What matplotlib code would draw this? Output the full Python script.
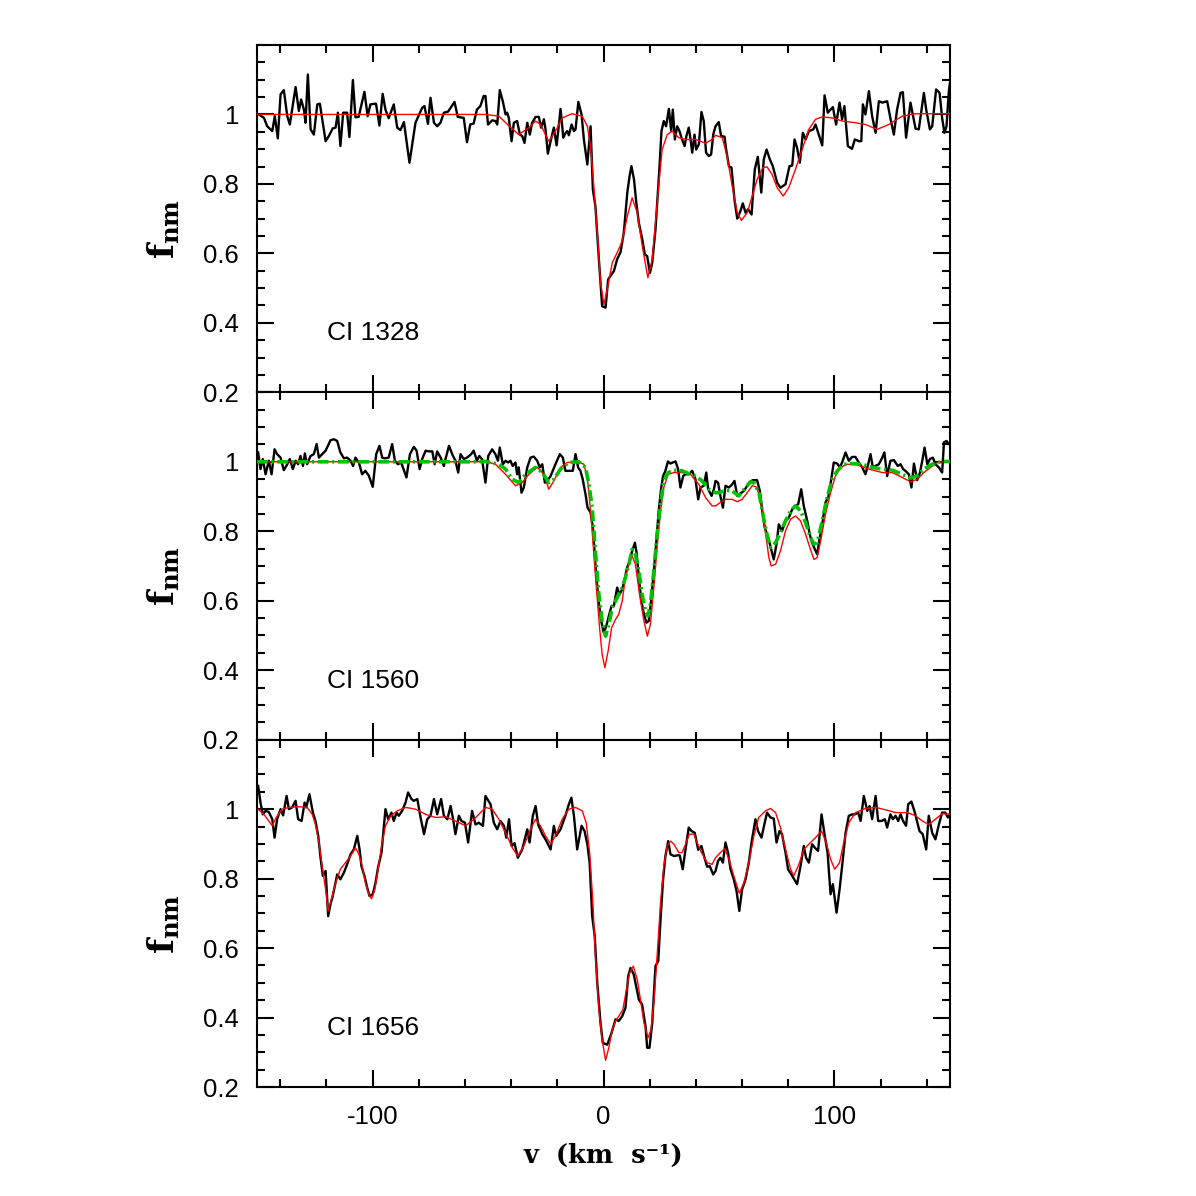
import numpy as np
import matplotlib
matplotlib.use("Agg")
import matplotlib.pyplot as plt
from matplotlib.ticker import FixedLocator, MultipleLocator, FuncFormatter

plt.rcParams['font.family'] = ['Liberation Sans', 'DejaVu Sans']
plt.rcParams['mathtext.fontset'] = 'dejavuserif'

# === Datos: (velocidad km/s, flujo normalizado) ===
obs_1328 = [
    (-149.2, 1.000), (-147.0, 0.990), (-145.6, 0.966), (-143.4, 0.952), (-142.3, 0.995), (-141.0, 0.931),
    (-139.8, 1.058), (-138.4, 1.070), (-136.9, 0.995), (-135.8, 0.971), (-133.3, 1.079), (-131.9, 1.010),
    (-130.9, 1.043), (-129.7, 1.014), (-129.0, 0.976), (-128.0, 1.115), (-126.8, 0.957), (-125.4, 0.942),
    (-123.9, 1.029), (-122.8, 1.031), (-120.3, 0.923), (-118.9, 0.938), (-117.2, 0.960), (-116.0, 0.962),
    (-115.0, 1.005), (-113.9, 0.909), (-112.7, 1.005), (-111.0, 1.005), (-110.0, 0.935), (-108.5, 1.099),
    (-107.4, 0.992), (-106.0, 0.993), (-103.5, 1.065), (-102.1, 0.995), (-100.9, 1.029), (-98.5, 1.031),
    (-97.0, 0.968), (-95.6, 1.059), (-94.4, 1.014), (-93.0, 0.989), (-90.8, 1.029), (-89.3, 0.962),
    (-87.9, 0.955), (-86.4, 0.978), (-84.0, 0.861), (-81.4, 0.976), (-78.5, 1.019), (-77.5, 1.024),
    (-76.0, 0.973), (-74.9, 1.048), (-73.4, 0.976), (-72.0, 0.966), (-70.6, 0.976), (-69.1, 1.005),
    (-67.3, 1.008), (-64.5, 1.036), (-63.1, 0.993), (-60.5, 0.990), (-59.1, 0.920), (-57.7, 0.971),
    (-56.2, 0.974), (-54.8, 1.014), (-53.3, 1.024), (-51.9, 1.053),
    (-51.1, 1.053), (-50.0, 0.971), (-48.2, 0.983), (-46.8, 0.981), (-46.0, 0.971), (-44.9, 1.070),
    (-43.6, 1.038), (-42.4, 1.000), (-41.7, 1.005), (-41.0, 0.990), (-39.8, 0.923), (-38.8, 0.976),
    (-37.4, 0.981), (-36.2, 0.942), (-35.2, 0.938), (-34.2, 0.918), (-33.0, 0.976), (-31.9, 0.942),
    (-30.9, 0.976), (-29.4, 0.993), (-28.0, 0.993), (-27.0, 0.962), (-25.8, 0.986), (-25.1, 0.957),
    (-24.1, 0.887), (-22.9, 0.923), (-21.5, 0.962), (-20.3, 0.911), (-19.6, 0.952), (-18.6, 1.016),
    (-17.4, 0.933), (-16.4, 0.947), (-15.7, 0.952), (-15.0, 0.940), (-13.8, 0.971), (-12.8, 0.952),
    (-12.1, 0.957), (-10.9, 1.036), (-9.5, 1.000), (-8.5, 0.928), (-7.0, 0.856), (-5.6, 0.966),
    (-4.6, 0.784), (-3.5, 0.736), (-2.0, 0.583), (-0.6, 0.448), (0.9, 0.444), (2.0, 0.525),
    (3.0, 0.535), (4.5, 0.549), (5.9, 0.583), (7.4, 0.604), (8.8, 0.660), (10.3, 0.775),
    (11.3, 0.823), (12.1, 0.851), (13.2, 0.813), (14.2, 0.746), (15.3, 0.688), (16.8, 0.640),
    (17.9, 0.597), (18.9, 0.592), (20.1, 0.544), (21.1, 0.573), (22.5, 0.669), (24.0, 0.823),
    (25.1, 0.952), (26.1, 0.981), (27.1, 0.966), (28.3, 1.016), (29.3, 0.952), (30.0, 1.014),
    (30.9, 0.928), (31.9, 0.966), (32.9, 0.952), (34.0, 0.928), (35.1, 0.909), (35.9, 0.938),
    (36.9, 0.962), (37.7, 0.928), (38.4, 0.890), (39.4, 0.942), (40.1, 0.899), (41.3, 0.914),
    (42.4, 1.007), (43.4, 0.981), (44.4, 0.890), (45.6, 0.880), (46.6, 0.885), (47.5, 0.942),
    (48.5, 0.966), (49.9, 0.978), (50.9, 0.938), (52.4, 0.936), (53.1, 0.899), (54.3, 0.851),
    (55.4, 0.847), (56.7, 0.755), (57.9, 0.700), (59.3, 0.722), (60.3, 0.744), (61.5, 0.717),
    (62.6, 0.727), (64.1, 0.712), (65.5, 0.842), (66.8, 0.878), (68.3, 0.775), (69.4, 0.871),
    (70.6, 0.899), (72.0, 0.871), (73.3, 0.851), (75.2, 0.803), (76.6, 0.789), (78.8, 0.799),
    (80.5, 0.851), (81.7, 0.853), (82.7, 0.928), (83.8, 0.904), (85.0, 0.861), (86.3, 0.947),
    (87.5, 0.928), (88.9, 0.952), (90.8, 0.957), (91.8, 0.971), (93.2, 0.942), (94.7, 0.911),
    (95.7, 1.055), (97.1, 1.005), (98.3, 1.014), (99.3, 1.021), (100.7, 0.971), (102.2, 1.034),
    (103.3, 0.986), (104.3, 1.024), (105.8, 0.909), (107.6, 0.901), (108.8, 0.928), (110.6, 0.923),
    (111.6, 0.923), (112.3, 1.029), (113.4, 1.000), (114.9, 1.067), (116.3, 0.995), (117.8, 0.947),
    (119.2, 1.038), (120.7, 1.034), (122.8, 1.038), (124.3, 0.986), (125.7, 0.942), (127.1, 1.014),
    (128.6, 1.062), (129.6, 1.064), (131.0, 0.933), (132.9, 1.034), (135.1, 0.959), (136.5, 0.957),
    (138.7, 1.062), (139.7, 1.014), (141.3, 0.957), (142.3, 0.966), (144.0, 1.072), (145.5, 1.062),
    (146.6, 0.990), (147.6, 0.947), (148.5, 0.966), (149.5, 1.067), (150.6, 1.120),
]

fit_1328 = [
    (-150.0, 1.000), (-100.0, 1.000), (-55.0, 1.000),
    (-51.1, 1.000), (-45.3, 0.995), (-40.9, 0.967), (-36.7, 0.942), (-32.3, 0.962), (-29.4, 0.981),
    (-27.3, 0.971), (-23.7, 0.923), (-20.8, 0.952), (-17.9, 0.990), (-13.6, 1.002), (-9.2, 0.995),
    (-7.0, 0.966), (-5.6, 0.909), (-4.2, 0.794), (-2.7, 0.660), (-1.3, 0.516), (0.2, 0.453),
    (1.6, 0.496), (3.8, 0.573), (5.9, 0.602), (8.1, 0.635), (10.3, 0.707), (12.4, 0.760),
    (14.6, 0.717), (16.8, 0.621), (19.2, 0.530), (21.1, 0.583), (22.5, 0.688), (24.0, 0.803),
    (25.4, 0.899), (27.6, 0.942), (29.7, 0.952), (32.6, 0.933), (35.5, 0.928), (39.8, 0.928),
    (44.2, 0.917), (47.0, 0.928),
    (48.5, 0.940), (51.4, 0.933), (53.5, 0.880), (55.7, 0.794), (57.9, 0.717), (59.7, 0.695),
    (62.2, 0.717), (64.4, 0.765), (66.5, 0.813), (69.0, 0.847), (70.8, 0.849), (73.0, 0.827),
    (75.2, 0.789), (77.8, 0.765), (80.2, 0.789), (83.1, 0.842), (86.0, 0.899), (88.9, 0.957),
    (91.8, 0.986), (94.7, 0.993), (99.0, 0.990), (103.3, 0.981), (109.1, 0.976), (113.4, 0.971),
    (118.5, 0.957), (123.5, 0.971), (129.3, 0.995), (135.1, 1.002), (150.2, 1.002),
]

obs_1560 = [
    (-149.5, 1.027), (-148.5, 0.979), (-147.5, 1.008), (-146.3, 0.964), (-144.9, 1.003), (-143.7, 0.964),
    (-142.4, 1.036), (-141.3, 1.022), (-139.8, 1.012), (-138.4, 0.976), (-136.9, 0.993), (-135.8, 1.008),
    (-134.5, 0.979), (-133.3, 1.003), (-132.2, 0.993), (-131.2, 1.017), (-130.1, 0.988), (-129.3, 1.024),
    (-128.3, 0.993), (-126.8, 1.017), (-125.4, 1.022), (-124.2, 1.051), (-123.2, 1.012), (-122.1, 1.020),
    (-120.3, 1.032), (-118.2, 1.062), (-116.7, 1.065), (-115.3, 1.060), (-113.9, 1.027), (-112.4, 1.010),
    (-111.0, 1.012), (-109.5, 1.003), (-108.4, 0.988), (-107.4, 1.012), (-105.9, 0.998), (-104.5, 0.964),
    (-103.1, 0.974), (-101.6, 0.960), (-99.9, 0.928), (-98.4, 1.022), (-97.0, 1.046), (-95.8, 1.012),
    (-94.7, 1.010), (-93.0, 1.012), (-91.5, 1.051), (-90.3, 1.003), (-89.0, 0.993), (-87.6, 0.998),
    (-85.3, 0.955), (-83.8, 1.022), (-82.1, 1.043), (-80.9, 1.032), (-79.6, 0.979), (-78.5, 1.008),
    (-77.0, 1.032), (-75.6, 1.030), (-74.1, 1.030), (-73.1, 0.993), (-72.0, 1.030), (-70.5, 1.012),
    (-69.1, 0.988), (-68.4, 1.008), (-66.9, 1.046), (-65.5, 1.022), (-64.1, 1.003), (-62.9, 0.969),
    (-61.9, 1.022), (-60.5, 1.008), (-59.1, 1.012), (-57.3, 1.022), (-56.2, 1.032), (-54.8, 1.003),
    (-53.8, 1.017), (-52.6, 1.008),
    (-51.1, 0.940), (-49.9, 1.017), (-48.2, 1.036), (-46.8, 1.022), (-45.7, 1.003), (-44.9, 1.041),
    (-43.6, 0.993), (-42.4, 1.003), (-41.3, 0.998), (-40.3, 1.003), (-39.3, 0.988), (-38.1, 0.998),
    (-37.4, 0.964), (-36.7, 0.984), (-35.5, 0.911), (-34.5, 0.926), (-33.0, 0.984), (-31.6, 1.012),
    (-30.2, 1.015), (-28.7, 1.003), (-27.6, 0.984), (-26.5, 0.993), (-25.4, 0.940), (-24.4, 0.945),
    (-22.9, 0.959), (-20.8, 0.993), (-18.9, 1.022), (-17.6, 1.012), (-16.5, 0.974), (-15.0, 0.974),
    (-13.3, 0.974), (-12.1, 1.022), (-11.0, 0.984), (-10.0, 0.974), (-9.0, 0.950), (-7.8, 0.907),
    (-6.9, 0.868), (-5.6, 0.854), (-4.6, 0.811), (-3.5, 0.705), (-2.3, 0.609), (-1.0, 0.542),
    (0.1, 0.508), (1.2, 0.527), (2.3, 0.556), (3.5, 0.585), (4.5, 0.585), (5.9, 0.638),
    (6.9, 0.618), (8.1, 0.633), (9.2, 0.662), (10.2, 0.695), (11.4, 0.715), (12.4, 0.743),
    (13.6, 0.767), (14.3, 0.739), (15.3, 0.667), (16.4, 0.599), (17.5, 0.561), (18.6, 0.537),
    (19.6, 0.542), (20.6, 0.599), (21.8, 0.686), (22.9, 0.772), (23.9, 0.859), (25.0, 0.926),
    (25.8, 0.959), (26.8, 0.974), (27.9, 1.001), (29.0, 0.995), (30.0, 0.998), (31.2, 1.001),
    (32.3, 0.979), (33.3, 0.926), (34.5, 0.959), (35.5, 0.964), (36.9, 0.964), (38.4, 0.974),
    (39.8, 0.950), (41.0, 0.892), (42.0, 0.926), (43.4, 0.931), (44.5, 0.969), (45.3, 0.921),
    (46.8, 0.902), (47.8, 0.921),
    (48.5, 0.945), (49.6, 0.940), (50.6, 0.902), (51.7, 0.868), (52.8, 0.931), (54.3, 0.926),
    (55.7, 0.935), (56.7, 0.945), (57.9, 0.902), (59.3, 0.909), (60.8, 0.916), (62.2, 0.931),
    (63.4, 0.942), (64.6, 0.947), (66.5, 0.947), (67.7, 0.916), (68.7, 0.859), (69.8, 0.811),
    (71.3, 0.782), (72.6, 0.748), (73.7, 0.719), (74.9, 0.763), (75.9, 0.820), (77.3, 0.801),
    (78.8, 0.830), (80.2, 0.839), (81.7, 0.863), (83.1, 0.873), (84.3, 0.878), (85.6, 0.921),
    (86.7, 0.873), (88.2, 0.830), (89.3, 0.791), (90.3, 0.767), (91.5, 0.748), (92.5, 0.734),
    (93.5, 0.777), (94.7, 0.820), (96.1, 0.883), (97.3, 0.897), (98.6, 0.950), (99.7, 0.998),
    (101.2, 0.995), (102.3, 0.984), (103.3, 0.998), (104.8, 1.027), (106.2, 1.003), (107.6, 1.014),
    (109.1, 1.014), (110.5, 0.998), (112.0, 0.984), (113.4, 0.964), (114.6, 0.993), (115.6, 1.022),
    (116.6, 0.984), (117.8, 0.988), (119.2, 0.993), (120.4, 1.008), (121.6, 1.027), (122.8, 0.959),
    (124.2, 1.003), (125.7, 1.005), (127.4, 0.988), (128.6, 0.993), (129.7, 0.979), (130.7, 0.974),
    (132.2, 0.964), (133.3, 0.926), (134.4, 0.995), (135.8, 0.947), (137.0, 0.969), (138.0, 1.003),
    (139.0, 1.041), (140.2, 0.993), (141.3, 1.008), (142.6, 1.012), (143.7, 0.993), (145.2, 0.984),
    (146.6, 0.969), (147.4, 1.056), (148.5, 1.060), (149.5, 1.051), (150.2, 1.051),
]

fit_1560 = [
    (-150.0, 1.000), (-100.0, 1.000), (-55.0, 1.000),
    (-51.1, 1.001), (-46.8, 0.993), (-42.4, 0.964), (-38.1, 0.931), (-35.2, 0.940), (-32.3, 0.964),
    (-28.7, 0.984), (-25.8, 0.964), (-23.7, 0.921), (-21.5, 0.945), (-18.6, 0.984), (-15.7, 0.998),
    (-11.4, 1.001), (-8.5, 0.993), (-7.0, 0.955), (-5.6, 0.859), (-4.6, 0.772), (-3.2, 0.647),
    (-1.7, 0.522), (-0.6, 0.446), (0.6, 0.407), (2.0, 0.455), (3.5, 0.522), (5.2, 0.546),
    (6.6, 0.561), (8.1, 0.599), (9.5, 0.667), (11.2, 0.715), (12.4, 0.729), (13.8, 0.705),
    (15.6, 0.618), (17.5, 0.542), (19.0, 0.498), (20.3, 0.532), (21.8, 0.638), (23.2, 0.753),
    (24.7, 0.859), (26.1, 0.926), (28.0, 0.964), (30.5, 0.969), (34.0, 0.969), (37.6, 0.964),
    (41.3, 0.935), (44.2, 0.897), (47.0, 0.873),
    (48.5, 0.873), (50.6, 0.883), (52.8, 0.892), (55.7, 0.892), (57.9, 0.885), (60.0, 0.892),
    (62.2, 0.911), (64.4, 0.931), (66.1, 0.928), (67.6, 0.902), (69.0, 0.849), (70.4, 0.782),
    (71.6, 0.724), (72.6, 0.700), (74.5, 0.705), (76.6, 0.743), (78.8, 0.801), (81.0, 0.835),
    (83.1, 0.844), (85.3, 0.830), (87.5, 0.791), (89.6, 0.748), (91.1, 0.719), (92.5, 0.724),
    (94.0, 0.772), (96.1, 0.849), (98.3, 0.911), (100.4, 0.959), (102.6, 0.984), (105.5, 0.993),
    (109.8, 0.991), (114.9, 0.979), (120.7, 0.969), (125.0, 0.969), (129.3, 0.955), (133.0, 0.942),
    (135.8, 0.950), (138.7, 0.969), (141.6, 0.984), (144.5, 0.998), (150.2, 1.001),
]

alt_1560 = [
    (-150.0, 1.000), (-100.0, 1.000), (-55.0, 1.000),
    (-51.1, 1.001), (-45.3, 0.993), (-42.4, 0.979), (-39.5, 0.950), (-36.7, 0.940), (-33.8, 0.964),
    (-29.4, 0.984), (-26.5, 0.969), (-23.7, 0.940), (-21.5, 0.950), (-18.6, 0.979), (-15.0, 0.998),
    (-10.7, 1.000), (-7.8, 0.984), (-6.3, 0.935), (-4.9, 0.868), (-3.5, 0.743), (-2.0, 0.618),
    (-0.6, 0.542), (0.9, 0.498), (2.3, 0.532), (3.8, 0.580), (5.2, 0.599), (6.6, 0.618),
    (8.1, 0.638), (9.5, 0.667), (11.0, 0.705), (12.4, 0.748), (13.8, 0.734), (15.3, 0.686),
    (16.7, 0.618), (18.2, 0.570), (19.3, 0.556), (20.3, 0.590), (21.8, 0.686), (23.2, 0.791),
    (24.7, 0.878), (26.1, 0.945), (28.0, 0.969), (30.5, 0.976), (34.0, 0.974), (36.9, 0.966),
    (39.8, 0.959), (42.7, 0.945), (45.6, 0.921),
    (48.5, 0.911), (49.9, 0.911), (52.8, 0.918), (55.7, 0.916), (58.6, 0.902), (61.5, 0.926),
    (63.6, 0.942), (65.1, 0.940), (67.3, 0.911), (69.4, 0.835), (70.9, 0.787), (72.3, 0.753),
    (74.5, 0.767), (76.6, 0.796), (78.8, 0.830), (81.0, 0.859), (83.1, 0.873), (85.3, 0.859),
    (87.5, 0.825), (89.6, 0.782), (91.1, 0.763), (92.5, 0.767), (94.7, 0.830), (96.8, 0.897),
    (99.0, 0.950), (101.2, 0.974), (104.0, 0.993), (107.6, 0.995), (112.0, 0.993), (116.3, 0.984),
    (120.7, 0.979), (125.0, 0.976), (129.3, 0.964), (133.0, 0.953), (135.8, 0.960), (138.7, 0.979),
    (142.3, 0.993), (146.6, 1.001), (150.2, 1.001),
]

obs_1656 = [
    (-149.5, 1.067), (-148.5, 1.019), (-147.5, 0.985), (-146.3, 0.995), (-144.9, 0.992), (-143.4, 0.971),
    (-142.4, 0.918), (-141.3, 0.971), (-139.8, 1.000), (-138.7, 0.982), (-137.2, 1.038), (-136.2, 1.000),
    (-134.8, 1.005), (-133.3, 1.024), (-132.2, 0.971), (-130.7, 0.966), (-129.4, 1.019), (-128.7, 1.005),
    (-127.3, 1.043), (-125.8, 0.990), (-124.7, 0.966), (-123.5, 0.923), (-122.5, 0.860), (-121.5, 0.808),
    (-120.3, 0.822), (-119.2, 0.692), (-118.2, 0.726), (-117.2, 0.750), (-115.3, 0.812), (-113.9, 0.798),
    (-112.4, 0.817), (-111.0, 0.841), (-109.5, 0.870), (-108.1, 0.884), (-106.6, 0.923), (-105.6, 0.884),
    (-104.8, 0.836), (-103.5, 0.808), (-102.3, 0.774), (-101.3, 0.750), (-99.9, 0.755), (-98.7, 0.788),
    (-97.6, 0.832), (-96.1, 0.875), (-94.4, 1.000), (-93.2, 0.971), (-91.8, 0.990), (-90.8, 0.966),
    (-89.6, 0.990), (-88.6, 0.981), (-87.2, 0.995), (-85.7, 1.019), (-84.6, 1.048), (-83.1, 1.029),
    (-82.1, 1.024), (-80.6, 1.029), (-79.2, 0.976), (-77.7, 0.928), (-76.3, 0.971), (-74.9, 0.981),
    (-73.4, 1.029), (-72.0, 0.985), (-70.3, 1.029), (-69.1, 0.981), (-67.6, 0.971), (-66.2, 1.009),
    (-65.1, 0.971), (-64.1, 0.928), (-62.6, 0.981), (-61.5, 0.966), (-60.0, 0.961), (-58.6, 0.904),
    (-56.9, 0.995), (-55.4, 0.956), (-54.0, 0.961), (-52.2, 0.952),
    (-51.1, 1.038), (-48.9, 1.014), (-47.5, 0.961), (-46.0, 0.942), (-44.6, 0.966), (-43.1, 0.952),
    (-42.1, 0.918), (-40.9, 0.971), (-39.8, 0.894), (-38.5, 0.902), (-37.1, 0.860), (-35.2, 0.884),
    (-33.0, 0.942), (-32.0, 0.904), (-30.6, 0.981), (-29.4, 1.009), (-28.3, 0.956), (-26.5, 0.928),
    (-25.1, 0.913), (-22.9, 0.884), (-21.5, 0.952), (-20.5, 0.923), (-18.6, 0.942), (-16.5, 0.981),
    (-15.0, 1.014), (-13.9, 1.033), (-12.8, 0.981), (-11.4, 0.884), (-9.5, 0.952), (-8.2, 0.937),
    (-7.0, 0.899), (-6.0, 0.846), (-4.9, 0.692), (-3.8, 0.635), (-2.7, 0.500), (-1.3, 0.385),
    (-0.3, 0.327), (1.6, 0.322), (3.5, 0.356), (5.2, 0.395), (6.6, 0.390), (8.1, 0.404),
    (9.5, 0.428), (10.7, 0.519), (11.7, 0.543), (13.1, 0.524), (14.1, 0.491), (15.3, 0.452),
    (16.7, 0.438), (18.2, 0.375), (18.9, 0.313), (19.9, 0.313), (21.1, 0.385), (22.5, 0.548),
    (23.7, 0.563), (24.7, 0.683), (25.8, 0.798), (26.8, 0.865), (28.0, 0.908), (29.0, 0.870),
    (30.5, 0.865), (31.9, 0.867), (33.0, 0.867), (34.3, 0.827), (35.5, 0.884), (36.9, 0.947),
    (38.1, 0.937), (39.5, 0.932), (41.0, 0.883), (42.4, 0.894), (43.9, 0.856), (44.9, 0.834),
    (46.0, 0.836), (47.5, 0.812),
    (48.5, 0.822), (49.6, 0.851), (50.6, 0.860), (51.7, 0.846), (52.8, 0.904), (53.9, 0.875),
    (55.0, 0.827), (56.4, 0.798), (57.6, 0.764), (58.8, 0.707), (60.0, 0.769), (61.5, 0.798),
    (62.9, 0.846), (64.3, 0.913), (65.8, 0.971), (66.9, 0.937), (68.4, 0.918), (69.8, 0.961),
    (70.8, 0.990), (72.3, 0.976), (73.7, 0.973), (74.9, 0.904), (76.2, 0.937), (77.3, 0.928),
    (78.8, 0.875), (79.9, 0.827), (81.7, 0.808), (83.8, 0.784), (85.3, 0.836), (86.7, 0.894),
    (87.7, 0.860), (88.9, 0.846), (90.3, 0.899), (91.5, 0.889), (92.9, 0.880), (94.4, 0.985),
    (95.8, 0.923), (97.0, 0.875), (98.3, 0.755), (99.3, 0.784), (100.9, 0.702), (102.2, 0.769),
    (103.3, 0.836), (104.8, 0.932), (106.2, 0.981), (107.7, 0.985), (108.8, 0.985), (110.3, 0.990),
    (111.3, 0.966), (112.7, 1.038), (114.2, 0.995), (115.2, 1.009), (116.3, 0.971), (117.8, 1.038),
    (118.9, 0.966), (120.4, 0.966), (121.8, 0.971), (122.8, 0.947), (124.2, 0.985), (125.3, 0.971),
    (126.4, 0.981), (127.6, 0.966), (128.6, 0.985), (129.7, 0.966), (131.0, 0.952), (131.9, 1.014),
    (133.3, 1.022), (134.8, 0.990), (136.8, 0.937), (138.2, 0.928), (139.7, 0.884), (140.8, 0.981),
    (142.3, 0.932), (143.7, 0.913), (145.2, 0.956), (146.6, 0.990), (148.0, 0.990), (149.1, 0.976),
    (150.2, 0.990),
]

fit_1656 = [
    (-149.5, 1.000), (-147.0, 0.985), (-144.9, 0.966), (-143.4, 0.952), (-141.7, 0.976), (-139.1, 1.000),
    (-136.2, 1.005), (-131.9, 1.007), (-128.3, 1.005), (-126.1, 0.985), (-124.7, 0.956), (-123.2, 0.904),
    (-121.8, 0.836), (-120.3, 0.769), (-119.2, 0.707), (-117.8, 0.740), (-116.0, 0.788), (-113.9, 0.827),
    (-111.7, 0.846), (-109.5, 0.865), (-107.4, 0.889), (-105.9, 0.870), (-104.5, 0.836), (-103.1, 0.788),
    (-101.6, 0.755), (-100.4, 0.742), (-99.0, 0.769), (-97.6, 0.827), (-96.1, 0.894), (-94.4, 0.952),
    (-92.2, 0.980), (-89.3, 0.995), (-85.7, 1.005), (-81.4, 1.000), (-77.0, 0.985), (-72.7, 0.976),
    (-68.4, 0.978), (-64.1, 0.966), (-59.7, 0.952), (-56.1, 0.971), (-52.5, 0.995),
    (-51.1, 1.005), (-48.2, 1.000), (-45.3, 0.971), (-42.4, 0.932), (-39.5, 0.889), (-37.1, 0.865),
    (-34.5, 0.894), (-31.6, 0.942), (-29.4, 0.971), (-27.3, 0.952), (-25.1, 0.923), (-22.9, 0.899),
    (-20.8, 0.923), (-17.9, 0.971), (-15.0, 1.000), (-12.1, 1.005), (-9.2, 0.995), (-7.5, 0.961),
    (-6.0, 0.875), (-4.6, 0.731), (-3.5, 0.577), (-2.0, 0.423), (-0.6, 0.337), (0.9, 0.277),
    (2.3, 0.313), (3.8, 0.366), (5.2, 0.390), (6.6, 0.404), (8.4, 0.423), (9.8, 0.476),
    (11.3, 0.529), (12.9, 0.548), (14.6, 0.510), (16.0, 0.452), (17.5, 0.385), (19.3, 0.342),
    (20.6, 0.366), (21.8, 0.443), (23.2, 0.577), (24.7, 0.731), (26.1, 0.836), (27.6, 0.894),
    (29.0, 0.908), (30.5, 0.899), (32.6, 0.875), (34.0, 0.875), (35.5, 0.899), (37.2, 0.928),
    (39.1, 0.928), (40.5, 0.904), (42.4, 0.875), (44.9, 0.846), (47.0, 0.841),
    (48.5, 0.860), (50.6, 0.875), (52.5, 0.886), (54.3, 0.856), (56.4, 0.808), (58.8, 0.758),
    (60.8, 0.788), (62.9, 0.846), (65.1, 0.923), (67.2, 0.976), (70.1, 0.995), (72.3, 1.002),
    (74.5, 0.990), (76.6, 0.947), (78.8, 0.884), (81.0, 0.827), (82.4, 0.808), (84.6, 0.841),
    (86.7, 0.884), (88.9, 0.899), (91.8, 0.918), (94.4, 0.937), (96.4, 0.904), (98.3, 0.856),
    (100.1, 0.827), (102.2, 0.846), (104.0, 0.904), (106.2, 0.961), (109.1, 0.990), (113.4, 1.002),
    (117.8, 1.005), (122.2, 0.998), (126.5, 0.990), (131.5, 0.990), (135.1, 0.981), (138.0, 0.966),
    (140.8, 0.956), (143.7, 0.971), (146.6, 0.987), (150.2, 0.985),
]

lines = ["CI 1328", "CI 1560", "CI 1656"]
obs = [obs_1328, obs_1560, obs_1656]
fits = [fit_1328, fit_1560, fit_1656]

# === Figura ===
fig = plt.figure(figsize=(11.96, 11.96), dpi=100)
gs = fig.add_gridspec(3, 1, left=0.2149, right=0.7943, bottom=0.0911, top=0.9624, hspace=0)
axes = [fig.add_subplot(gs[i]) for i in range(3)]

for i, ax in enumerate(axes):
    o = np.array(obs[i])
    ax.plot(o[:, 0], o[:, 1], color='black', lw=1.7, zorder=3)
    m = np.array(fits[i])
    ax.plot(m[:, 0], m[:, 1], color='red', lw=1.0, zorder=4)
    if i == 1:
        a = np.array(alt_1560)
        ax.plot(a[:, 0], a[:, 1], color='#00c000', lw=2.6, zorder=5,
                dashes=(3.0, 1.0, 0.6, 1.0))

    ax.set_xlim(-150, 150)
    ax.set_ylim(0.2, 1.2)
    ax.yaxis.set_major_locator(FixedLocator([0.2, 0.4, 0.6, 0.8, 1.0]))
    ax.yaxis.set_minor_locator(MultipleLocator(0.05))
    ax.yaxis.set_major_formatter(FuncFormatter(lambda y, p: f'{y:g}'))
    ax.xaxis.set_major_locator(FixedLocator([-100, 0, 100]))
    ax.xaxis.set_minor_locator(MultipleLocator(20))
    ax.xaxis.set_major_formatter(FuncFormatter(lambda x, p: f'{x:g}'))
    ax.tick_params(which='both', direction='in', top=True, right=True, width=1.5, labelsize=18.5)
    ax.tick_params(which='major', length=12)
    ax.tick_params(which='minor', length=6)
    ax.tick_params(axis='y', pad=13)
    ax.tick_params(axis='x', pad=13)
    for s in ax.spines.values():
        s.set_linewidth(1.5)
    if i < 2:
        ax.tick_params(axis='x', labelbottom=False)

    ax.text(-119.5, 0.35, lines[i], fontsize=19, ha='left', va='baseline')
    ax.set_ylabel(r'$\mathbf{f}_{\mathbf{nm}}$', fontsize=25, rotation=90,
                  ha='center', va='center')
    ax.yaxis.set_label_coords(-0.135, 0.47)

axes[2].set_xlabel('v  (km  s⁻¹)', family='DejaVu Serif', fontweight='bold', fontsize=18.5,
                   labelpad=10)

fig.savefig('out.png', dpi=100)
